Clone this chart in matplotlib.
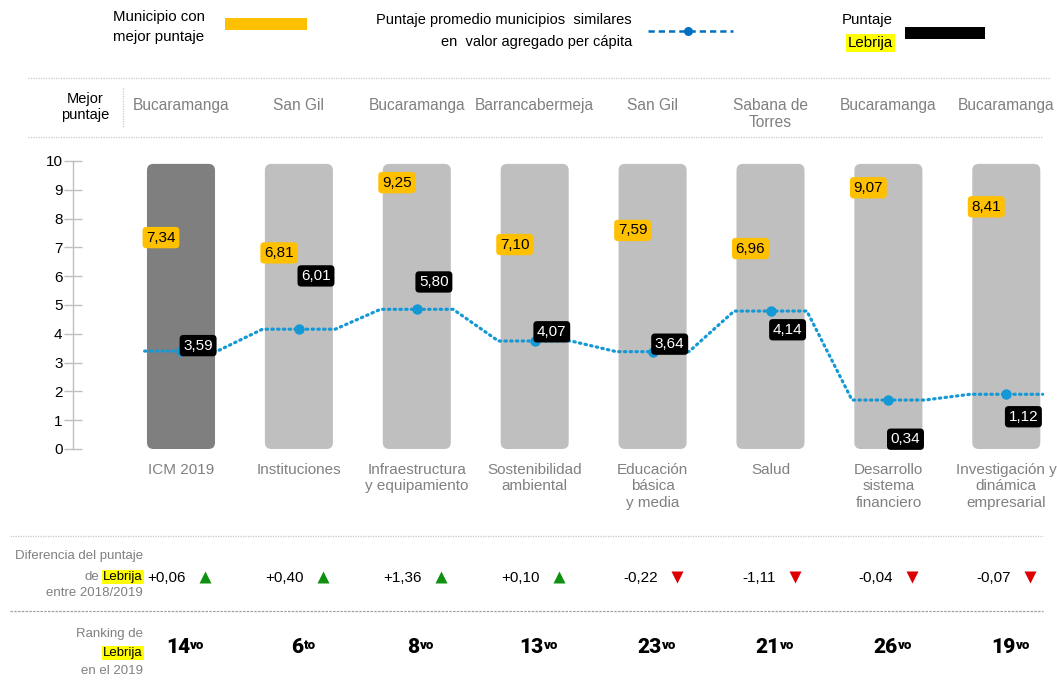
import matplotlib
matplotlib.use("Agg")
import matplotlib.pyplot as plt
from matplotlib import font_manager as fm
from matplotlib.patches import FancyBboxPatch, Rectangle
from matplotlib.lines import Line2D

# ---------------- data ----------------
categories = ["ICM 2019", "Instituciones", "Infraestructura\ny equipamiento",
              "Sostenibilidad\nambiental", "Educación\nbásica\ny media", "Salud",
              "Desarrollo\nsistema\nfinanciero", "Investigación y\ndinámica\nempresarial"]
mejor_municipio = ["Bucaramanga", "San Gil", "Bucaramanga", "Barrancabermeja",
                   "San Gil", "Sabana de\nTorres", "Bucaramanga", "Bucaramanga"]
mejor_puntaje = [7.34, 6.81, 9.25, 7.10, 7.59, 6.96, 9.07, 8.41]
puntaje_lebrija = [3.59, 6.01, 5.80, 4.07, 3.64, 4.14, 0.34, 1.12]
promedio_similares = [3.40, 4.16, 4.85, 3.75, 3.38, 4.79, 1.70, 1.90]
diferencia = [0.06, 0.40, 1.36, 0.10, -0.22, -1.11, -0.04, -0.07]
ranking = [14, 6, 8, 13, 23, 21, 26, 19]
ranking_suf = ["vo", "to", "vo", "vo", "vo", "vo", "vo", "vo"]
escala_max = 10
yticks = list(range(0, 11))

# ---------------- fonts ----------------
names = {f.name for f in fm.fontManager.ttflist}
REG = "Liberation Sans" if "Liberation Sans" in names else "DejaVu Sans"
NARROW = "Liberation Sans Narrow" if "Liberation Sans Narrow" in names else REG
plt.rcParams["font.family"] = [REG, "DejaVu Sans"]


def _w(w):
    if isinstance(w, str):
        return fm.weight_dict.get(w, 400)
    return int(w)


heavy_family, heavy_weight = "DejaVu Sans", "bold"
best = 700
for fam in ["Roboto", "Lato", "Inter", "Noto Sans", "Open Sans"]:
    ws = [_w(f.weight) for f in fm.fontManager.ttflist if f.name == fam and f.style == "normal"]
    if ws and max(ws) > best:
        best = max(ws)
        heavy_family, heavy_weight = fam, max(ws)

# ---------------- colours ----------------
GRAY_TXT = "#808080"
DARK_BAR = "#7f7f7f"
LIGHT_BAR = "#bfbfbf"
YELLOW = "#ffc000"
HILITE = "#ffff00"
BLUE = "#1499d6"
BLUE_LEG = "#0070c0"
SEP = "#c8c8c8"

W, H = 1057, 684
fig = plt.figure(figsize=(W / 100, H / 100), dpi=100)

# main axes (pixel layout)
x_left_px, x_right_px = 73, 1050
y_top_px, y_bot_px = 161, 449
c0_px, step_px = 181, 117.9
ax = fig.add_axes([x_left_px / W, (H - y_bot_px) / H,
                   (x_right_px - x_left_px) / W, (y_bot_px - y_top_px) / H])
ax.set_xlim((x_left_px - c0_px) / step_px, (x_right_px - c0_px) / step_px)
ax.set_ylim(0, escala_max)
for s in ["top", "right", "bottom"]:
    ax.spines[s].set_visible(False)
ax.spines["left"].set_color(LIGHT_BAR)
ax.spines["left"].set_linewidth(1)
ax.set_xticks([])
ax.set_yticks(yticks)
ax.set_yticklabels([str(t) for t in yticks], fontsize=11)
ax.tick_params(axis="y", direction="inout", length=13, width=1, color=LIGHT_BAR, pad=1)
ax.patch.set_alpha(0)

n = len(categories)
bar_w = 0.577
ypx = (y_bot_px - y_top_px) / escala_max
asp = (1 / ypx) / (1 / step_px)
for i in range(n):
    p = FancyBboxPatch((i - bar_w / 2, 0.0), bar_w, escala_max - 0.1,
                       boxstyle="round,pad=0,rounding_size=0.055",
                       mutation_aspect=asp,
                       fc=DARK_BAR if i == 0 else LIGHT_BAR, ec="none", zorder=1,
                       clip_on=False)
    ax.add_patch(p)

# average line (flat over each bar, linked between bars)
hw = bar_w / 2
xs, ys = [], []
for i, v in enumerate(promedio_similares):
    xs += [i - hw - 0.02, i + hw + 0.02]
    ys += [v, v]
ax.plot(xs, ys, ls=(0, (0.45, 1.35)), lw=2.3, color=BLUE, zorder=2, clip_on=False,
        dash_capstyle="round")
ax.plot(range(n), promedio_similares, "o", ms=7.5, color=BLUE, zorder=3, mec="none")

# value labels
for i in range(n):
    ax.text(i - 0.17, mejor_puntaje[i], f"{mejor_puntaje[i]:.2f}".replace(".", ","),
            ha="center", va="center", fontsize=11, family=[NARROW, "DejaVu Sans"],
            color="black", zorder=5,
            bbox=dict(boxstyle="round,pad=0.24,rounding_size=0.25", fc=YELLOW, ec="none"))
    ax.text(i + 0.145, puntaje_lebrija[i], f"{puntaje_lebrija[i]:.2f}".replace(".", ","),
            ha="center", va="center", fontsize=11, family=[NARROW, "DejaVu Sans"],
            color="white", zorder=5,
            bbox=dict(boxstyle="round,pad=0.24,rounding_size=0.25", fc="black", ec="none"))

# ---------------- overlay in pixel coordinates ----------------
ov = fig.add_axes([0, 0, 1, 1])
ov.set_xlim(0, W)
ov.set_ylim(H, 0)
ov.axis("off")


def cx(i):
    return ax.transData.transform((i, 0))[0]


# legend
LEG_FS = 10.8
ov.text(113, 17, "Municipio con", fontsize=LEG_FS, family=[NARROW, "DejaVu Sans"], va="center", ha="left")
ov.text(113, 37, "mejor puntaje", fontsize=LEG_FS, family=[NARROW, "DejaVu Sans"], va="center", ha="left")
ov.add_patch(Rectangle((225, 18), 82, 12, fc=YELLOW, ec="none"))
ov.text(632, 20, "Puntaje promedio municipios  similares", fontsize=LEG_FS - 0.3,
        family=[NARROW, "DejaVu Sans"], va="center", ha="right")
ov.text(632, 42, "en  valor agregado per cápita", fontsize=LEG_FS - 0.3,
        family=[NARROW, "DejaVu Sans"], va="center", ha="right")
ov.add_line(Line2D([648, 733], [31, 31], ls=(0, (2.5, 1.6)), lw=1.8, color=BLUE_LEG))
ov.plot([688], [31], "o", ms=6.5, color=BLUE_LEG, mec="none")
ov.text(893, 20, "Puntaje", fontsize=LEG_FS, family=[NARROW, "DejaVu Sans"], va="center", ha="right")
ov.text(893, 43, "Lebrija", fontsize=LEG_FS, family=[NARROW, "DejaVu Sans"], va="center", ha="right",
        bbox=dict(boxstyle="square,pad=0.12", fc=HILITE, ec="none"))
ov.add_patch(Rectangle((905, 27), 80, 12, fc="black", ec="none"))

# header rows
ov.add_line(Line2D([28, 1050], [78, 78], ls=(0, (1, 1)), lw=0.9, color=SEP))
ov.text(85, 107, "Mejor\npuntaje", fontsize=10.5, ha="center", va="center", linespacing=1.25)
ov.add_line(Line2D([123, 123], [88, 127], ls=(0, (1, 1)), lw=0.9, color=SEP))
for i in range(n):
    ov.text(cx(i), 98, mejor_municipio[i], fontsize=11.2, color=GRAY_TXT, ha="center",
            va="top", linespacing=1.2)
ov.add_line(Line2D([28, 1043], [137, 137], ls=(0, (1, 1)), lw=0.9, color=SEP))

# category labels
for i in range(n):
    ov.text(cx(i), 463, categories[i], fontsize=11, color=GRAY_TXT, ha="center",
            va="top", linespacing=1.22)

# difference row
ov.add_line(Line2D([10, 1043], [536, 536], ls=(0, (1, 1)), lw=0.9, color=SEP))
left_lbl_x = 143
ov.text(left_lbl_x, 556, "Diferencia del puntaje", fontsize=9.5, color=GRAY_TXT, ha="right", va="center")
leb1 = ov.text(left_lbl_x, 577, "Lebrija", fontsize=9.5, color="black", ha="right", va="center",
               bbox=dict(boxstyle="square,pad=0.1", fc=HILITE, ec="none"))
ov.text(left_lbl_x, 593, "entre 2018/2019", fontsize=9.5, color=GRAY_TXT, ha="right", va="center")

for i in range(n):
    d = diferencia[i]
    ov.text(cx(i) + 5, 578, f"{d:+.2f}".replace(".", ","), fontsize=11, ha="right", va="center")
    if d >= 0:
        ov.plot([cx(i) + 24], [577], marker="^", ms=9, color="#109010", mec="none")
    else:
        ov.plot([cx(i) + 24], [577], marker="v", ms=9, color="#dd0000", mec="none")

ov.add_line(Line2D([10, 1043], [611, 611], ls=(0, (2, 1)), lw=0.9, color="#a0a0a0"))

# ranking row
ov.text(left_lbl_x, 634, "Ranking de", fontsize=9.5, color=GRAY_TXT, ha="right", va="center")
leb2 = ov.text(left_lbl_x, 653, "Lebrija", fontsize=9.5, color="black", ha="right", va="center",
               bbox=dict(boxstyle="square,pad=0.1", fc=HILITE, ec="none"))
ov.text(left_lbl_x, 671, "en el 2019", fontsize=9.5, color=GRAY_TXT, ha="right", va="center")

num_txt, sup_txt = [], []
for i in range(n):
    t1 = ov.text(0, 653, str(ranking[i]), fontsize=15, family=heavy_family,
                 fontweight=heavy_weight, ha="left", va="baseline")
    t2 = ov.text(0, 649, ranking_suf[i], fontsize=9.5, family=heavy_family,
                 fontweight=heavy_weight, ha="left", va="baseline")
    num_txt.append(t1)
    sup_txt.append(t2)

fig.canvas.draw()
r = fig.canvas.get_renderer()
# "de" before highlighted word
bb = leb1.get_window_extent(r)
ov.text(left_lbl_x - bb.width - 4, 577, "de", fontsize=9.5, color=GRAY_TXT, ha="right", va="center")
for i in range(n):
    w1 = num_txt[i].get_window_extent(r).width
    w2 = sup_txt[i].get_window_extent(r).width
    left = cx(i) + 4 - (w1 + w2) / 2
    num_txt[i].set_x(left)
    sup_txt[i].set_x(left + w1 + 0.5)

fig.savefig("out.png", dpi=100)
